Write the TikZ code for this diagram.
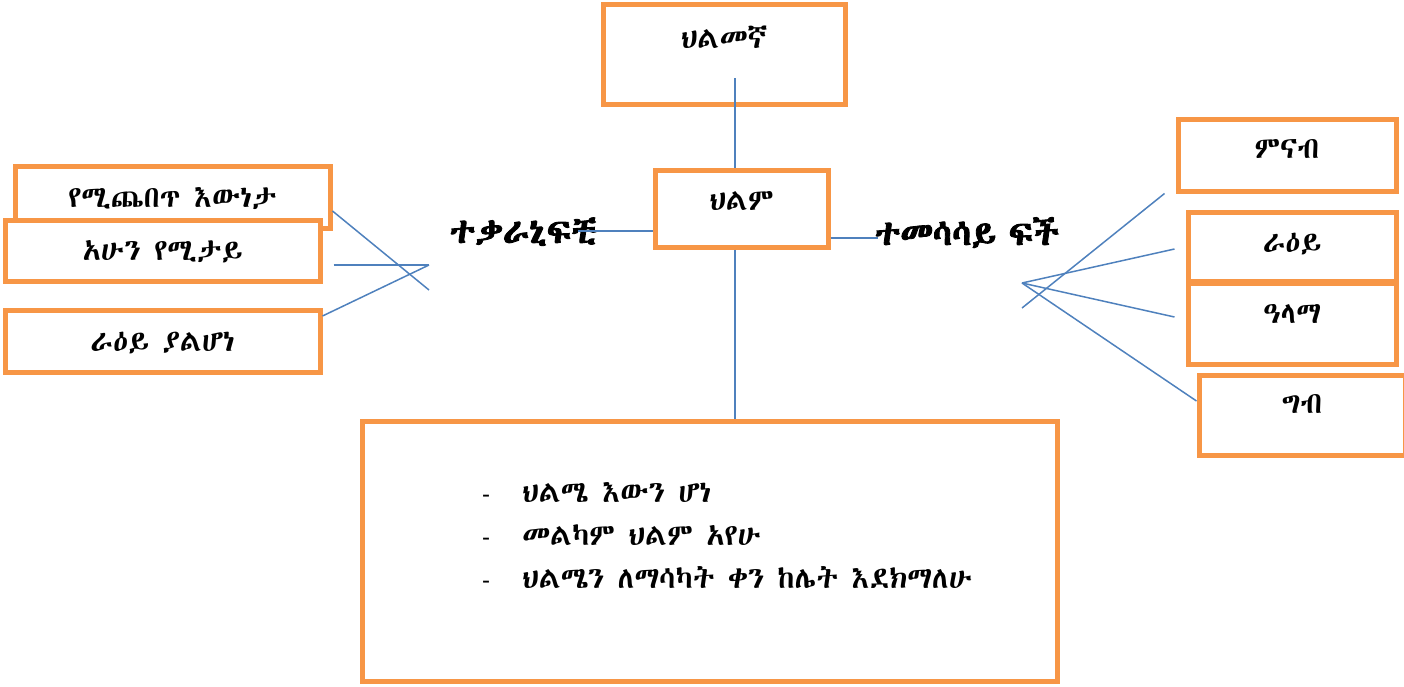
\documentclass[tikz,border=0pt]{standalone}
\usepackage{fontspec}
\IfFontExistsTF{FreeSerif.otf}{\newfontfamily\eth[AutoFakeBold=2.5,WordSpace=0.4]{FreeSerif.otf}}{%
  \IfFontExistsTF{Abyssinica SIL}{\newfontfamily\eth[AutoFakeBold=2.5]{Abyssinica SIL}}{%
    \newfontfamily\eth[AutoFakeBold=2.5]{Noto Sans Ethiopic}}}
\newfontfamily\lat{Liberation Sans}
\definecolor{boxorange}{HTML}{F79646}
\definecolor{lineblue}{HTML}{4F81BD}
\newcommand\txtfont{\eth\fontsize{30}{34}\selectfont}
\newcommand\headfont{\eth\bfseries\fontsize{35}{40}\selectfont}
\tikzset{
  box/.style={draw=boxorange, line width=5pt, fill=white, inner sep=0pt, anchor=base, font=\txtfont},
  conn/.style={draw=lineblue, line width=1.5pt},
  head/.style={inner sep=0pt, anchor=base, font=\headfont},
  item/.style={inner sep=0pt, anchor=base west, font=\txtfont},
}
\begin{document}
\begin{tikzpicture}[x=1pt,y=-1pt]
\useasboundingbox (0,0) rectangle (1404,686);
% top and centre
\node[box, minimum width=242pt, text height=44pt, text depth=56pt] (dreamer) at (724,48) {ህልመኛ};
\node[box, minimum width=173pt, text height=40pt, text depth=37pt] (dream) at (741.5,210) {ህልም};
% left boxes
\node[box, minimum width=315pt, text height=41pt, text depth=21pt] (l1) at (172.5,207) {የሚጨበጥ እውነታ};
\node[box, minimum width=315pt, text height=40pt, text depth=21pt] (l2) at (162.5,260) {አሁን የሚታይ};
\node[box, minimum width=315pt, text height=41pt, text depth=21pt] (l3) at (162.5,351) {ራዕይ ያልሆነ};
% right boxes
\node[box, minimum width=218pt, text height=39pt, text depth=33pt] (r1) at (1287,158) {ምናብ};
\node[box, minimum width=208pt, text height=40pt, text depth=29pt] (r2) at (1292,252) {ራዕይ};
\node[box, minimum width=208pt, text height=40pt, text depth=41pt] (r3) at (1292,323) {ዓላማ};
\node[box, minimum width=206pt, text height=38pt, text depth=42pt] (r4) at (1302,413) {ግብ};
% bottom box
\node[box, anchor=center, minimum width=695pt, minimum height=260pt] (bot) at (709.5,551) {};
\node[item] (i1) at (482,502) {\makebox[40pt][l]{\lat\fontsize{24}{28}\selectfont -}ህልሜ እውን ሆነ};
\node[item] (i2) at (482,545) {\makebox[40pt][l]{\lat\fontsize{24}{28}\selectfont -}መልካም ህልም አየሁ};
\node[item] (i3) at (482,588) {\makebox[40pt][l]{\lat\fontsize{24}{28}\selectfont -}ህልሜን ለማሳካት ቀን ከሌት እደክማለሁ};
% headings
\node[head] (anto) at (523,243) {ተቃራኒፍቺ};
\node[head] (syno) at (967,245) {ተመሳሳይ\hspace{13pt}ፍች};
% connectors
\coordinate (t1) at (735,78);
\draw[conn] (t1) -- (t1 |- dream.north);
\draw[conn] (dream.south -| t1) -- (bot.north -| t1);
\coordinate (hl) at (578,231);
\draw[conn] (dream.west |- hl) -- (hl);
\coordinate (hr) at (878,238);
\draw[conn] (dream.east |- hr) -- (hr);
% left fan
\coordinate (lj) at (429,265);
\coordinate (lx) at (429,290);
\draw[conn] (l1.east |- 0,211) -- (lx);
\draw[conn] ([xshift=11pt]l2.east |- lj) -- (lj);
\draw[conn] (l3.east |- 0,316) -- (lj);
% right fan
\coordinate (rj) at (1022,283);
\coordinate (rx) at (1022,308);
\draw[conn] (rx) -- ([xshift=-11pt]r1.south west);
\draw[conn] (rj) -- ([xshift=-11pt]r2.west |- 0,249);
\draw[conn] (rj) -- ([xshift=-11pt]r3.west |- 0,317);
\draw[conn] (rj) -- (r4.west |- 0,401);
\end{tikzpicture}
\end{document}
